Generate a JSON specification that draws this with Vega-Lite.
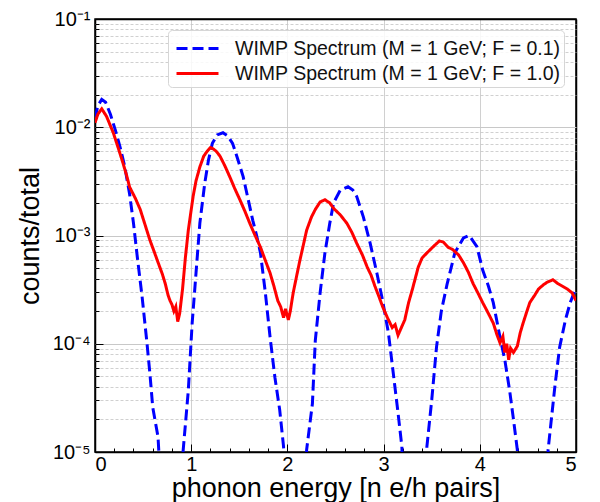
{
  "$schema": "https://vega.github.io/schema/vega-lite/v6.json",
  "width": 481,
  "height": 433,
  "autosize": "none",
  "padding": {"left": 95, "top": 19, "right": 24, "bottom": 50},
  "config": {
    "view": {"stroke": "black", "strokeWidth": 1.5},
    "font": "Liberation Sans",
    "axis": {
      "labelFont": "Liberation Sans",
      "titleFont": "Liberation Sans",
      "labelColor": "black",
      "titleColor": "black",
      "tickColor": "black",
      "labelFontSize": 20,
      "titleFontSize": 27,
      "titleFontWeight": "normal",
      "domain": false
    }
  },
  "datasets": {
    "spec": [
      {"F": "0.1", "e": 0.0, "c": 1.2e-2}, {"F": "0.1", "e": 0.03, "c": 1.58e-2}, {"F": "0.1", "e": 0.07, "c": 1.81e-2}, {"F": "0.1", "e": 0.11, "c": 1.7e-2}, {"F": "0.1", "e": 0.16, "c": 1.32e-2}, {"F": "0.1", "e": 0.21, "c": 9.5e-3}, {"F": "0.1", "e": 0.26, "c": 6.6e-3}, {"F": "0.1", "e": 0.31, "c": 4.3e-3}, {"F": "0.1", "e": 0.36, "c": 2.4e-3}, {"F": "0.1", "e": 0.40, "c": 1.3e-3}, {"F": "0.1", "e": 0.44, "c": 6.3e-4}, {"F": "0.1", "e": 0.49, "c": 2.7e-4}, {"F": "0.1", "e": 0.54, "c": 1.02e-4}, {"F": "0.1", "e": 0.57, "c": 5.4e-5}, {"F": "0.1", "e": 0.60, "c": 2.6e-5}, {"F": "0.1", "e": 0.655, "c": 1.38e-5}, {"F": "0.1", "e": 0.67, "c": 8e-6}, {"F": "0.1", "e": 0.70, "c": 2.5e-6}, {"F": "0.1", "e": 0.88, "c": 2.5e-6}, {"F": "0.1", "e": 0.915, "c": 1e-5}, {"F": "0.1", "e": 0.97, "c": 3.7e-5}, {"F": "0.1", "e": 1.01, "c": 1.55e-4}, {"F": "0.1", "e": 1.05, "c": 4.5e-4}, {"F": "0.1", "e": 1.09, "c": 1.3e-3}, {"F": "0.1", "e": 1.14, "c": 3.0e-3}, {"F": "0.1", "e": 1.18, "c": 5.0e-3}, {"F": "0.1", "e": 1.22, "c": 7.1e-3}, {"F": "0.1", "e": 1.27, "c": 8.5e-3}, {"F": "0.1", "e": 1.33, "c": 8.9e-3}, {"F": "0.1", "e": 1.38, "c": 8.3e-3}, {"F": "0.1", "e": 1.43, "c": 7.1e-3}, {"F": "0.1", "e": 1.48, "c": 5.2e-3}, {"F": "0.1", "e": 1.54, "c": 3.5e-3}, {"F": "0.1", "e": 1.59, "c": 2.2e-3}, {"F": "0.1", "e": 1.64, "c": 1.38e-3}, {"F": "0.1", "e": 1.68, "c": 1.0e-3}, {"F": "0.1", "e": 1.72, "c": 6.9e-4}, {"F": "0.1", "e": 1.77, "c": 3.0e-4}, {"F": "0.1", "e": 1.82, "c": 1.15e-4}, {"F": "0.1", "e": 1.87, "c": 4.9e-5}, {"F": "0.1", "e": 1.92, "c": 2.45e-5}, {"F": "0.1", "e": 1.96, "c": 1.12e-5}, {"F": "0.1", "e": 1.99, "c": 3e-6}, {"F": "0.1", "e": 2.18, "c": 3e-6}, {"F": "0.1", "e": 2.20, "c": 1.05e-5}, {"F": "0.1", "e": 2.26, "c": 2.8e-5}, {"F": "0.1", "e": 2.29, "c": 1.07e-4}, {"F": "0.1", "e": 2.34, "c": 2.95e-4}, {"F": "0.1", "e": 2.39, "c": 6.9e-4}, {"F": "0.1", "e": 2.44, "c": 1.29e-3}, {"F": "0.1", "e": 2.48, "c": 2.0e-3}, {"F": "0.1", "e": 2.55, "c": 2.63e-3}, {"F": "0.1", "e": 2.63, "c": 2.82e-3}, {"F": "0.1", "e": 2.68, "c": 2.63e-3}, {"F": "0.1", "e": 2.72, "c": 2.3e-3}, {"F": "0.1", "e": 2.79, "c": 1.48e-3}, {"F": "0.1", "e": 2.86, "c": 8.5e-4}, {"F": "0.1", "e": 2.93, "c": 4.5e-4}, {"F": "0.1", "e": 2.99, "c": 2.5e-4}, {"F": "0.1", "e": 3.05, "c": 1.26e-4}, {"F": "0.1", "e": 3.10, "c": 5.4e-5}, {"F": "0.1", "e": 3.15, "c": 2.3e-5}, {"F": "0.1", "e": 3.19, "c": 1.12e-5}, {"F": "0.1", "e": 3.21, "c": 3e-6}, {"F": "0.1", "e": 3.43, "c": 3e-6}, {"F": "0.1", "e": 3.45, "c": 1.12e-5}, {"F": "0.1", "e": 3.50, "c": 3.0e-5}, {"F": "0.1", "e": 3.55, "c": 9.3e-5}, {"F": "0.1", "e": 3.60, "c": 2.0e-4}, {"F": "0.1", "e": 3.66, "c": 3.55e-4}, {"F": "0.1", "e": 3.74, "c": 6.9e-4}, {"F": "0.1", "e": 3.83, "c": 9.5e-4}, {"F": "0.1", "e": 3.89, "c": 1.0e-3}, {"F": "0.1", "e": 3.97, "c": 7.9e-4}, {"F": "0.1", "e": 4.03, "c": 4.8e-4}, {"F": "0.1", "e": 4.09, "c": 3.4e-4}, {"F": "0.1", "e": 4.14, "c": 2.4e-4}, {"F": "0.1", "e": 4.21, "c": 1.15e-4}, {"F": "0.1", "e": 4.26, "c": 7.1e-5}, {"F": "0.1", "e": 4.31, "c": 3.7e-5}, {"F": "0.1", "e": 4.35, "c": 2.0e-5}, {"F": "0.1", "e": 4.39, "c": 1.05e-5}, {"F": "0.1", "e": 4.41, "c": 3e-6}, {"F": "0.1", "e": 4.69, "c": 3e-6}, {"F": "0.1", "e": 4.71, "c": 1.05e-5}, {"F": "0.1", "e": 4.78, "c": 4.0e-5}, {"F": "0.1", "e": 4.83, "c": 9.3e-5}, {"F": "0.1", "e": 4.89, "c": 1.66e-4}, {"F": "0.1", "e": 4.94, "c": 2.4e-4}, {"F": "0.1", "e": 5.0, "c": 3.3e-4},
      {"F": "1.0", "e": 0.0, "c": 1.1e-2}, {"F": "1.0", "e": 0.03, "c": 1.32e-2}, {"F": "1.0", "e": 0.07, "c": 1.48e-2}, {"F": "1.0", "e": 0.12, "c": 1.26e-2}, {"F": "1.0", "e": 0.19, "c": 8.9e-3}, {"F": "1.0", "e": 0.24, "c": 6.5e-3}, {"F": "1.0", "e": 0.29, "c": 4.7e-3}, {"F": "1.0", "e": 0.33, "c": 3.55e-3}, {"F": "1.0", "e": 0.36, "c": 2.8e-3}, {"F": "1.0", "e": 0.42, "c": 2.2e-3}, {"F": "1.0", "e": 0.47, "c": 1.74e-3}, {"F": "1.0", "e": 0.52, "c": 1.26e-3}, {"F": "1.0", "e": 0.57, "c": 9.1e-4}, {"F": "1.0", "e": 0.62, "c": 6.9e-4}, {"F": "1.0", "e": 0.66, "c": 5.5e-4}, {"F": "1.0", "e": 0.70, "c": 4.4e-4}, {"F": "1.0", "e": 0.73, "c": 3.6e-4}, {"F": "1.0", "e": 0.76, "c": 2.8e-4}, {"F": "1.0", "e": 0.78, "c": 2.5e-4}, {"F": "1.0", "e": 0.80, "c": 2.3e-4}, {"F": "1.0", "e": 0.82, "c": 2.0e-4}, {"F": "1.0", "e": 0.84, "c": 2.2e-4}, {"F": "1.0", "e": 0.86, "c": 1.6e-4}, {"F": "1.0", "e": 0.88, "c": 1.9e-4}, {"F": "1.0", "e": 0.91, "c": 3.2e-4}, {"F": "1.0", "e": 0.94, "c": 6.3e-4}, {"F": "1.0", "e": 0.97, "c": 1.12e-3}, {"F": "1.0", "e": 1.02, "c": 2.3e-3}, {"F": "1.0", "e": 1.05, "c": 3.2e-3}, {"F": "1.0", "e": 1.09, "c": 4.3e-3}, {"F": "1.0", "e": 1.13, "c": 5.4e-3}, {"F": "1.0", "e": 1.16, "c": 5.9e-3}, {"F": "1.0", "e": 1.20, "c": 6.5e-3}, {"F": "1.0", "e": 1.23, "c": 6.3e-3}, {"F": "1.0", "e": 1.26, "c": 6.0e-3}, {"F": "1.0", "e": 1.30, "c": 5.4e-3}, {"F": "1.0", "e": 1.35, "c": 4.4e-3}, {"F": "1.0", "e": 1.40, "c": 3.5e-3}, {"F": "1.0", "e": 1.45, "c": 2.75e-3}, {"F": "1.0", "e": 1.51, "c": 2.1e-3}, {"F": "1.0", "e": 1.56, "c": 1.66e-3}, {"F": "1.0", "e": 1.61, "c": 1.29e-3}, {"F": "1.0", "e": 1.66, "c": 1.02e-3}, {"F": "1.0", "e": 1.72, "c": 7.8e-4}, {"F": "1.0", "e": 1.77, "c": 5.9e-4}, {"F": "1.0", "e": 1.82, "c": 4.5e-4}, {"F": "1.0", "e": 1.86, "c": 3.4e-4}, {"F": "1.0", "e": 1.90, "c": 2.5e-4}, {"F": "1.0", "e": 1.93, "c": 2.2e-4}, {"F": "1.0", "e": 1.96, "c": 1.74e-4}, {"F": "1.0", "e": 1.98, "c": 2.1e-4}, {"F": "1.0", "e": 2.01, "c": 1.66e-4}, {"F": "1.0", "e": 2.03, "c": 2.0e-4}, {"F": "1.0", "e": 2.06, "c": 2.95e-4}, {"F": "1.0", "e": 2.10, "c": 4.4e-4}, {"F": "1.0", "e": 2.13, "c": 5.9e-4}, {"F": "1.0", "e": 2.17, "c": 8.5e-4}, {"F": "1.0", "e": 2.20, "c": 1.12e-3}, {"F": "1.0", "e": 2.25, "c": 1.48e-3}, {"F": "1.0", "e": 2.29, "c": 1.74e-3}, {"F": "1.0", "e": 2.34, "c": 2.04e-3}, {"F": "1.0", "e": 2.39, "c": 2.14e-3}, {"F": "1.0", "e": 2.44, "c": 2.0e-3}, {"F": "1.0", "e": 2.48, "c": 1.78e-3}, {"F": "1.0", "e": 2.55, "c": 1.55e-3}, {"F": "1.0", "e": 2.62, "c": 1.29e-3}, {"F": "1.0", "e": 2.67, "c": 1.07e-3}, {"F": "1.0", "e": 2.72, "c": 8.5e-4}, {"F": "1.0", "e": 2.78, "c": 6.6e-4}, {"F": "1.0", "e": 2.83, "c": 5.1e-4}, {"F": "1.0", "e": 2.87, "c": 4.3e-4}, {"F": "1.0", "e": 2.91, "c": 3.4e-4}, {"F": "1.0", "e": 2.95, "c": 2.75e-4}, {"F": "1.0", "e": 2.99, "c": 2.2e-4}, {"F": "1.0", "e": 3.04, "c": 1.74e-4}, {"F": "1.0", "e": 3.09, "c": 1.41e-4}, {"F": "1.0", "e": 3.12, "c": 1.5e-4}, {"F": "1.0", "e": 3.15, "c": 1.2e-4}, {"F": "1.0", "e": 3.18, "c": 1.38e-4}, {"F": "1.0", "e": 3.22, "c": 1.66e-4}, {"F": "1.0", "e": 3.26, "c": 2.4e-4}, {"F": "1.0", "e": 3.30, "c": 3.2e-4}, {"F": "1.0", "e": 3.36, "c": 5.1e-4}, {"F": "1.0", "e": 3.40, "c": 6.2e-4}, {"F": "1.0", "e": 3.45, "c": 6.9e-4}, {"F": "1.0", "e": 3.53, "c": 8.1e-4}, {"F": "1.0", "e": 3.58, "c": 8.9e-4}, {"F": "1.0", "e": 3.62, "c": 8.7e-4}, {"F": "1.0", "e": 3.67, "c": 7.8e-4}, {"F": "1.0", "e": 3.72, "c": 7.4e-4}, {"F": "1.0", "e": 3.78, "c": 6.6e-4}, {"F": "1.0", "e": 3.83, "c": 5.6e-4}, {"F": "1.0", "e": 3.88, "c": 4.6e-4}, {"F": "1.0", "e": 3.93, "c": 3.6e-4}, {"F": "1.0", "e": 3.98, "c": 2.95e-4}, {"F": "1.0", "e": 4.03, "c": 2.4e-4}, {"F": "1.0", "e": 4.09, "c": 1.9e-4}, {"F": "1.0", "e": 4.14, "c": 1.55e-4}, {"F": "1.0", "e": 4.18, "c": 1.2e-4}, {"F": "1.0", "e": 4.21, "c": 1.02e-4}, {"F": "1.0", "e": 4.24, "c": 1.17e-4}, {"F": "1.0", "e": 4.26, "c": 8.3e-5}, {"F": "1.0", "e": 4.28, "c": 1.0e-4}, {"F": "1.0", "e": 4.30, "c": 7.1e-5}, {"F": "1.0", "e": 4.32, "c": 9.1e-5}, {"F": "1.0", "e": 4.35, "c": 8.3e-5}, {"F": "1.0", "e": 4.39, "c": 9.5e-5}, {"F": "1.0", "e": 4.42, "c": 1.26e-4}, {"F": "1.0", "e": 4.45, "c": 1.55e-4}, {"F": "1.0", "e": 4.49, "c": 2.0e-4}, {"F": "1.0", "e": 4.52, "c": 2.4e-4}, {"F": "1.0", "e": 4.57, "c": 2.8e-4}, {"F": "1.0", "e": 4.61, "c": 3.2e-4}, {"F": "1.0", "e": 4.66, "c": 3.5e-4}, {"F": "1.0", "e": 4.70, "c": 3.7e-4}, {"F": "1.0", "e": 4.76, "c": 3.9e-4}, {"F": "1.0", "e": 4.81, "c": 3.6e-4}, {"F": "1.0", "e": 4.86, "c": 3.4e-4}, {"F": "1.0", "e": 4.91, "c": 3.2e-4}, {"F": "1.0", "e": 4.96, "c": 2.95e-4}, {"F": "1.0", "e": 5.0, "c": 2.5e-4}
    ]
  },
  "data": {"name": "spec"},
  "resolve": {"axis": {"x": "independent", "y": "independent"}},
  "layer": [
    {
      "transform": [{"filter": "datum.F == '0.1'"}],
      "mark": {"type": "line", "clip": true, "strokeWidth": 3},
      "encoding": {
        "x": {
          "field": "e", "type": "quantitative",
          "scale": {"domain": [0, 5], "nice": false, "zero": false},
          "axis": {"orient": "bottom", "values": [0.2, 0.4, 0.6, 0.8, 1.2, 1.4, 1.6, 1.8, 2.2, 2.4, 2.6, 2.8, 3.2, 3.4, 3.6, 3.8, 4.2, 4.4, 4.6, 4.8], "labels": false, "grid": false, "tickSize": -4, "title": null}
        },
        "y": {
          "field": "c", "type": "quantitative",
          "scale": {"type": "log", "domain": [1e-5, 1e-1], "nice": false},
          "axis": {"orient": "left", "values": [2e-5, 3e-5, 4e-5, 5e-5, 6e-5, 7e-5, 8e-5, 9e-5, 2e-4, 3e-4, 4e-4, 5e-4, 6e-4, 7e-4, 8e-4, 9e-4, 2e-3, 3e-3, 4e-3, 5e-3, 6e-3, 7e-3, 8e-3, 9e-3, 2e-2, 3e-2, 4e-2, 5e-2, 6e-2, 7e-2, 8e-2, 9e-2], "labels": false, "grid": true, "gridColor": "#c4c4c4", "gridDash": [3, 2], "gridWidth": 0.8, "tickSize": -4, "title": null}
        },
        "color": {
          "field": "F", "type": "nominal",
          "scale": {"domain": ["0.1", "1.0"], "range": ["#0000ff", "#ff0000"]},
          "legend": {
            "orient": "none", "legendX": 73, "legendY": 11, "title": null,
            "labelExpr": "'WIMP Spectrum (M = 1 GeV; F = ' + datum.label + ')'",
            "labelFontSize": 19.5, "labelFont": "Liberation Sans", "labelColor": "#111", "labelLimit": 0,
            "symbolType": "M-0.74,0H2.37", "symbolSize": 729, "symbolStrokeWidth": 3,
            "labelOffset": 33.5, "padding": 3.5, "rowPadding": 0,
            "strokeColor": "#d6d6d6", "fillColor": "rgba(255,255,255,0.85)", "cornerRadius": 4
          }
        },
        "strokeDash": {
          "field": "F", "type": "nominal",
          "scale": {"domain": ["0.1", "1.0"], "range": [[11, 5], [1, 0]]},
          "legend": null
        }
      }
    },
    {
      "transform": [{"filter": "datum.F == '1.0'"}],
      "mark": {"type": "line", "clip": true, "strokeWidth": 3},
      "encoding": {
        "x": {
          "field": "e", "type": "quantitative",
          "axis": {"orient": "bottom", "values": [0, 1, 2, 3, 4, 5], "grid": true, "gridColor": {"condition": {"test": "datum.value == 0 || datum.value == 5", "value": "black"}, "value": "#d0d0d0"}, "gridWidth": {"condition": {"test": "datum.value == 0 || datum.value == 5", "value": 1.5}, "value": 1}, "tickSize": -8, "labelPadding": 10, "labelFontSize": 20, "format": "d", "title": "phonon energy [n e/h pairs]", "titlePadding": 1}
        },
        "y": {
          "field": "c", "type": "quantitative",
          "axis": {"orient": "left", "values": [1e-5, 1e-4, 1e-3, 1e-2, 1e-1], "grid": true, "gridColor": {"condition": {"test": "datum.value < 2e-5 || datum.value > 5e-2", "value": "black"}, "value": "#c8c8c8"}, "gridWidth": {"condition": {"test": "datum.value < 2e-5 || datum.value > 5e-2", "value": 1.5}, "value": 1}, "tickSize": -8, "labelPadding": 13, "labelExpr": "datum.value < 5e-5 ? '10⁻⁵' : datum.value < 5e-4 ? '10⁻⁴' : datum.value < 5e-3 ? '10⁻³' : datum.value < 5e-2 ? '10⁻²' : '10⁻¹'", "title": "counts/total", "titlePadding": 8}
        },
        "color": {"field": "F", "type": "nominal"},
        "strokeDash": {"field": "F", "type": "nominal"}
      }
    }
  ]
}
